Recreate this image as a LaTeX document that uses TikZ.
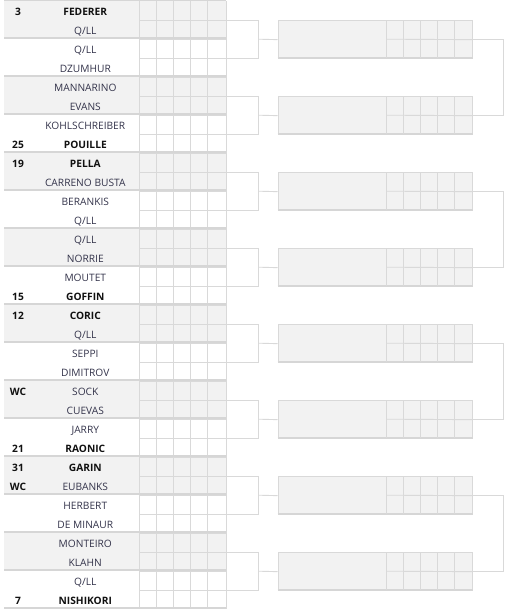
\documentclass[tikz,border=0pt]{standalone}
\usepackage{fontspec}
\setmainfont{Open Sans}
\definecolor{shadebg}{HTML}{F2F2F2}
\definecolor{linegray}{HTML}{D9D9D9}
\definecolor{sepgray}{HTML}{D6D6D6}
\definecolor{namecol}{HTML}{33334A}
\definecolor{seedcol}{HTML}{111111}
\begin{document}
\begin{tikzpicture}[x=1pt,y=-1pt,
  gridline/.style={draw=linegray, line width=0.9pt},
  sepline/.style={draw=sepgray, line width=2pt},
  conn/.style={draw=linegray, line width=0.9pt},
  shadefill/.style={fill=shadebg},
  pname/.style={font=\fontsize{10.2}{12}\selectfont, text=namecol, inner sep=0pt, anchor=center},
  pseeded/.style={font=\fontsize{10.2}{12}\selectfont\bfseries, text=seedcol, inner sep=0pt, anchor=center},
  seedlbl/.style={font=\fontsize{10.2}{12}\selectfont\bfseries, text=seedcol, inner sep=0pt, anchor=center}]
\useasboundingbox (0,0) rectangle (507,610);
\def\T{1.2}
\def\h{19}
\def\dy{1.6}
% shaded first-round matches
\foreach \m in {0,2,...,14} {
  \fill[shadefill] (4,{\T+2*\m*\h}) rectangle (226.3,{\T+(2*\m+2)*\h});
}
% score grid
\foreach \x in {139.3,156.5,173.6,190.6,207.7,226.3} {
  \draw[gridline] (\x,\T) -- (\x,{\T+32*\h});
}
\foreach \r in {1,...,31} {
  \draw[gridline] (139.3,{\T+\r*\h}) -- (226.3,{\T+\r*\h});
}
% match separators
\foreach \m in {0,...,16} {
  \draw[sepline] (4,{\T+2*\m*\h-0.8}) -- (226.3,{\T+2*\m*\h-0.8});
}
% player rows
\foreach \i/\nm/\sd/\b in {
  0/FEDERER/3/1, 1/Q\slash LL//0, 2/Q\slash LL//0, 3/DZUMHUR//0,
  4/MANNARINO//0, 5/EVANS//0, 6/KOHLSCHREIBER//0, 7/POUILLE/25/1,
  8/PELLA/19/1, 9/CARRENO BUSTA//0, 10/BERANKIS//0, 11/Q\slash LL//0,
  12/Q\slash LL//0, 13/NORRIE//0, 14/MOUTET//0, 15/GOFFIN/15/1,
  16/CORIC/12/1, 17/Q\slash LL//0, 18/SEPPI//0, 19/DIMITROV//0,
  20/SOCK/WC/0, 21/CUEVAS//0, 22/JARRY//0, 23/RAONIC/21/1,
  24/GARIN/31/1, 25/EUBANKS/WC/0, 26/HERBERT//0, 27/DE MINAUR//0,
  28/MONTEIRO//0, 29/KLAHN//0, 30/Q\slash LL//0, 31/NISHIKORI/7/1} {
  \ifnum\b=1
    \node[pseeded] (n\i) at (85.3,{\T+(\i+0.5)*\h+\dy}) {\nm};
  \else
    \node[pname] (n\i) at (85.3,{\T+(\i+0.5)*\h+\dy}) {\nm};
  \fi
  \node[seedlbl] (s\i) at (18,{\T+(\i+0.5)*\h+\dy}) {\sd};
}
% second-round boxes and first-round connectors
\foreach \k in {0,...,7} {
  \coordinate (a\k) at (226.3,{\T+(4*\k+1)*\h});
  \coordinate (b\k) at (226.3,{\T+(4*\k+3)*\h});
  \coordinate (m\k) at (258.5,{\T+(4*\k+2)*\h});
  \node[draw=linegray, line width=0.9pt, fill=shadebg, minimum width=194.2pt, minimum height=38pt, inner sep=0pt, anchor=north west]
    (r\k) at (277.5,{\T+(4*\k+1)*\h}) {};
  \draw[sepline] ([yshift=0.9pt]r\k.south west) -- ([yshift=0.9pt]r\k.south east);
  \foreach \x in {386.3,403.4,420.5,437.6,454.6} {
    \draw[gridline] (\x,{\T+(4*\k+1)*\h}) -- (\x,{\T+(4*\k+3)*\h});
  }
  \draw[gridline] (386.3,{\T+(4*\k+2)*\h}) -- (r\k.east);
  \draw[conn] (a\k) -| (m\k) |- (b\k);
  \draw[conn] (m\k) -- (r\k.west);
}
% second-round connectors
\foreach \j/\p/\q in {0/0/1, 1/2/3, 2/4/5, 3/6/7} {
  \coordinate (c\j) at (503.3,{\T+(8*\j+4)*\h});
  \draw[conn] (r\p.east) -| (c\j) |- (r\q.east);
}
\end{tikzpicture}
\end{document}
